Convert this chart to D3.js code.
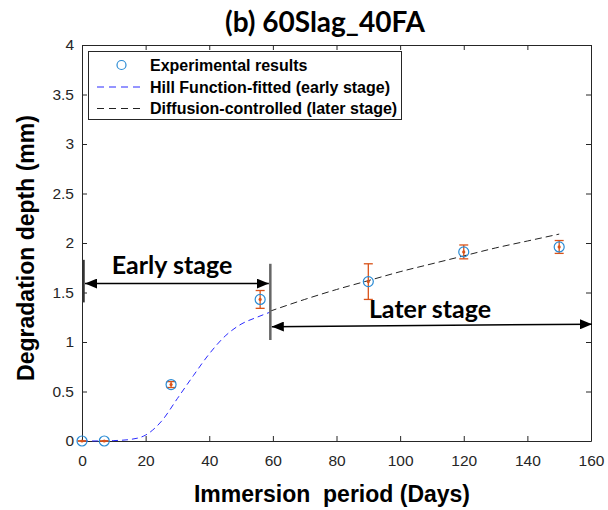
<!DOCTYPE html>
<html>
<head>
<meta charset="utf-8">
<script src="https://cdn.jsdelivr.net/npm/d3@7"></script>
<style>
  body { margin: 0; background: #fff; }
  svg { display: block; }
</style>
</head>
<body>
<svg id="chart" width="608" height="510"></svg>
<script>
// Measured degradation depth (mm) per immersion day, with error bar half-widths
const days = [0, 7, 28, 56, 90, 120, 150];
const depth = [0, 0, 0.57, 1.43, 1.61, 1.91, 1.96];
const errDown = [0, 0, 0.03, 0.09, 0.18, 0.07, 0.065];
const errUp = [0, 0, 0.03, 0.09, 0.18, 0.07, 0.065];

// Hill function fit (early stage), sampled
const hillDays = [0, 5, 10, 15, 20, 25, 30, 35, 40, 45, 50, 55, 59];
const hillDepth = [0, 0.0005, 0.004, 0.015, 0.06, 0.2, 0.43, 0.66, 0.88, 1.06, 1.18, 1.25, 1.3];

// Diffusion-controlled fit (later stage), sampled
const diffDays = [59, 70, 80, 90, 100, 110, 120, 130, 140, 150];
const diffDepth = [1.31, 1.43, 1.53, 1.62, 1.71, 1.79, 1.87, 1.95, 2.02, 2.09];

const xTicks = [0, 20, 40, 60, 80, 100, 120, 140, 160];
const yTicks = [0, 0.5, 1, 1.5, 2, 2.5, 3, 3.5, 4];
const yTickLabels = ["0", "0.5", "1", "1.5", "2", "2.5", "3", "3.5", "4"];

const legendLabels = ["Experimental results", "Hill Function-fitted (early stage)", "Diffusion-controlled (later stage)"];

// Stage annotations, in data units
const stageSplit = 59.2;
const earlyArrowY = 1.59;
const laterArrowY = [1.155, 1.18];

const svg = d3.select("#chart");
const W = 608, H = 510;
const m = { left: 82, right: 17, top: 45, bottom: 69 };

const x = d3.scaleLinear().domain([0, 160]).range([m.left, W - m.right]);
const y = d3.scaleLinear().domain([0, 4]).range([H - m.bottom, m.top]);

const axisColor = "#262626";
const tickFont = "Liberation Sans, Arial, sans-serif";

// Axes with inward ticks on all four sides
const gx = svg.append("g").attr("transform", `translate(0,${y(0)})`)
  .call(d3.axisBottom(x).tickValues(xTicks).tickSizeInner(-5).tickSizeOuter(0).tickPadding(14));
const gxt = svg.append("g").attr("transform", `translate(0,${y(4)})`)
  .call(d3.axisTop(x).tickValues(xTicks).tickSizeInner(-5).tickSizeOuter(0).tickFormat(""));
const gy = svg.append("g").attr("transform", `translate(${x(0)},0)`)
  .call(d3.axisLeft(y).tickValues(yTicks).tickSizeInner(-5).tickSizeOuter(0).tickPadding(8)
    .tickFormat((d, i) => yTickLabels[i]));
const gyr = svg.append("g").attr("transform", `translate(${x(160)},0)`)
  .call(d3.axisRight(y).tickValues(yTicks).tickSizeInner(-5).tickSizeOuter(0).tickFormat(""));

[gx, gxt, gy, gyr].forEach(g => {
  g.selectAll("path.domain").attr("stroke", axisColor).attr("stroke-width", 1);
  g.selectAll(".tick line").attr("stroke", axisColor).attr("stroke-width", 1);
  g.selectAll(".tick text").attr("fill", axisColor).attr("font-family", tickFont).attr("font-size", 15.5);
});

// Fitted curves
const line = d3.line().x(d => x(d[0])).y(d => y(d[1])).curve(d3.curveMonotoneX);
svg.append("path")
  .datum(hillDays.map((d, i) => [d, hillDepth[i]]))
  .attr("d", line).attr("fill", "none").attr("stroke", "#2a2aff")
  .attr("stroke-width", 1).attr("stroke-dasharray", "6,4");
svg.append("path")
  .datum(diffDays.map((d, i) => [d, diffDepth[i]]))
  .attr("d", line).attr("fill", "none").attr("stroke", "#222")
  .attr("stroke-width", 1).attr("stroke-dasharray", "7,4");

// Error bars
const errColor = "#D95319";
const eb = svg.append("g");
days.forEach((d, i) => {
  const cx = x(d);
  const y1 = y(depth[i] + errUp[i]);
  const y2 = y(depth[i] - errDown[i]);
  eb.append("line").attr("x1", cx).attr("x2", cx).attr("y1", y1).attr("y2", y2)
    .attr("stroke", errColor).attr("stroke-width", 1.3);
  [y1, y2].forEach(yy => eb.append("line")
    .attr("x1", cx - 4.5).attr("x2", cx + 4.5).attr("y1", yy).attr("y2", yy)
    .attr("stroke", errColor).attr("stroke-width", 1.3));
  eb.append("circle").attr("cx", cx).attr("cy", y(depth[i])).attr("r", 1.6).attr("fill", errColor);
});

// Experimental markers
svg.append("g").selectAll("circle").data(days).join("circle")
  .attr("cx", d => x(d)).attr("cy", (d, i) => y(depth[i])).attr("r", 5)
  .attr("fill", "none").attr("stroke", "#2a8bd4").attr("stroke-width", 1.2);

// Stage annotations
const ann = svg.append("g");
const defs = svg.append("defs");
defs.append("marker").attr("id", "arrow").attr("viewBox", "0 0 12 10")
  .attr("refX", 12).attr("refY", 5).attr("markerWidth", 12).attr("markerHeight", 10)
  .attr("markerUnits", "userSpaceOnUse").attr("orient", "auto-start-reverse")
  .append("path").attr("d", "M0,0 L12,5 L0,10 Z").attr("fill", "#000");

ann.append("line").attr("x1", x(0) + 1.5).attr("x2", x(0) + 1.5)
  .attr("y1", y(1.83)).attr("y2", y(1.4)).attr("stroke", "#333").attr("stroke-width", 2.5);
ann.append("line").attr("x1", x(stageSplit)).attr("x2", x(stageSplit))
  .attr("y1", y(1.79)).attr("y2", y(1.02)).attr("stroke", "#666").attr("stroke-width", 2.5);

ann.append("line").attr("x1", x(0) + 3).attr("x2", x(stageSplit) - 1.5)
  .attr("y1", y(earlyArrowY)).attr("y2", y(earlyArrowY))
  .attr("stroke", "#000").attr("stroke-width", 1.5)
  .attr("marker-start", "url(#arrow)").attr("marker-end", "url(#arrow)");
ann.append("line").attr("x1", x(stageSplit) + 1.5).attr("x2", x(160) + 1)
  .attr("y1", y(laterArrowY[0])).attr("y2", y(laterArrowY[1]))
  .attr("stroke", "#000").attr("stroke-width", 1.5)
  .attr("marker-start", "url(#arrow)").attr("marker-end", "url(#arrow)");

const stageFont = "Lato, 'Open Sans', sans-serif";
ann.append("text").attr("x", 172).attr("y", 274).attr("text-anchor", "middle")
  .attr("font-family", stageFont).attr("font-weight", 700).attr("font-size", 25)
  .attr("fill", "#000").text("Early stage");
ann.append("text").attr("x", 430).attr("y", 318).attr("text-anchor", "middle")
  .attr("font-family", stageFont).attr("font-weight", 700).attr("font-size", 25)
  .attr("fill", "#000").text("Later stage");

// Legend
const lg = svg.append("g");
lg.append("rect").attr("x", 88.5).attr("y", 51.5).attr("width", 313).attr("height", 68)
  .attr("fill", "#fff").attr("stroke", "#262626").attr("stroke-width", 1);
const rowY = [65, 87, 108.5];
lg.append("circle").attr("cx", 121.5).attr("cy", rowY[0]).attr("r", 4.5)
  .attr("fill", "none").attr("stroke", "#2a8bd4").attr("stroke-width", 1.2);
lg.append("line").attr("x1", 97).attr("x2", 143).attr("y1", rowY[1]).attr("y2", rowY[1])
  .attr("stroke", "#2a2aff").attr("stroke-width", 1).attr("stroke-dasharray", "7,5");
lg.append("line").attr("x1", 97).attr("x2", 143).attr("y1", rowY[2]).attr("y2", rowY[2])
  .attr("stroke", "#222").attr("stroke-width", 1).attr("stroke-dasharray", "7,5");
legendLabels.forEach((t, i) => {
  lg.append("text").attr("x", 150).attr("y", rowY[i]).attr("dy", "0.36em")
    .attr("font-family", tickFont).attr("font-weight", 700).attr("font-size", 16)
    .attr("fill", "#000").text(t);
});

// Title and axis labels
svg.append("text").attr("x", 325).attr("y", 32).attr("text-anchor", "middle")
  .attr("font-family", stageFont).attr("font-weight", 700).attr("font-size", 28)
  .attr("fill", "#000").text("(b) 60Slag_40FA");
svg.append("text").attr("x", 332).attr("y", 502).attr("text-anchor", "middle")
  .attr("font-family", tickFont).attr("font-weight", 700).attr("font-size", 23)
  .attr("fill", "#000").attr("xml:space", "preserve").style("white-space", "pre")
  .text("Immersion  period (Days)");
svg.append("text").attr("transform", `translate(34,248) rotate(-90)`).attr("text-anchor", "middle")
  .attr("font-family", tickFont).attr("font-weight", 700).attr("font-size", 23)
  .attr("fill", "#000").text("Degradation depth (mm)");
</script>
</body>
</html>
